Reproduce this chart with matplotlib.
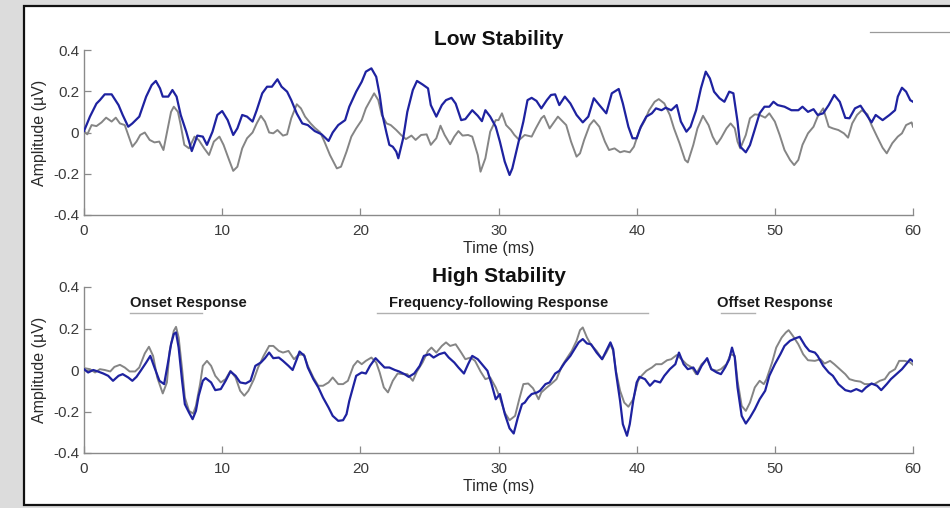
import matplotlib
matplotlib.use("Agg")
import matplotlib.pyplot as plt
from matplotlib.patches import Rectangle
from matplotlib.transforms import Bbox, TransformedBbox

plt.rcParams['font.family'] = ['Liberation Sans', 'DejaVu Sans']

# ---------------- data (time in ms, amplitude in uV) ----------------
low_blue_t = [0, 0.43, 0.9, 1.15, 1.5, 2.0, 2.5, 2.8, 3.2, 3.5, 4.0, 4.5, 4.9, 5.2, 5.5, 5.7, 6.1, 6.4, 6.7,
              7.0, 7.4, 7.8, 8.2, 8.6, 8.9, 9.3, 9.65, 10.0, 10.4, 10.8, 11.1, 11.45, 11.8, 12.2, 12.5, 12.9,
              13.25, 13.6, 14.0, 14.3, 14.7, 15.0, 15.4, 15.8, 16.2, 16.7, 17.2, 17.7, 18.0, 18.4, 18.9, 19.2,
              19.7, 20.1, 20.4, 20.8, 21.15, 21.4, 21.6, 21.9, 22.1, 22.35, 22.6, 22.75, 23.1, 23.4, 23.8, 24.1,
              24.5, 24.9, 25.1, 25.5, 25.9, 26.2, 26.6, 26.9, 27.3, 27.6, 28.1, 28.5, 28.8, 29.05, 29.4, 29.8,
              30.1, 30.45, 30.8, 31.0, 31.4, 31.8, 32.1, 32.4, 32.75, 33.1, 33.5, 33.8, 34.1, 34.4, 34.8, 35.2,
              35.65, 36.1, 36.5, 36.9, 37.3, 37.8, 38.2, 38.7, 39.0, 39.4, 39.7, 40.0, 40.3, 40.7, 41.1, 41.4,
              41.8, 42.1, 42.5, 42.9, 43.2, 43.6, 43.9, 44.3, 44.65, 45.0, 45.3, 45.6, 46.0, 46.35, 46.7, 47.0,
              47.3, 47.5, 47.9, 48.2, 48.5, 48.9, 49.25, 49.6, 49.9, 50.2, 50.7, 51.2, 51.7, 52.0, 52.4, 52.8,
              53.1, 53.5, 53.9, 54.3, 54.7, 55.1, 55.4, 55.8, 56.2, 56.5, 57.0, 57.3, 57.8, 58.3, 58.7, 58.9,
              59.2, 59.5, 59.8, 60.0]
low_blue_v = [0.007, 0.077, 0.14, 0.157, 0.185, 0.185, 0.133, 0.085, 0.028, 0.044, 0.077, 0.174, 0.23, 0.25,
              0.214, 0.174, 0.174, 0.206, 0.174, 0.085, 0.004, -0.09, -0.015, -0.02, -0.06, 0.004, 0.085, 0.104,
              0.06, -0.012, 0.02, 0.085, 0.077, 0.053, 0.108, 0.19, 0.222, 0.222, 0.258, 0.222, 0.198, 0.157,
              0.092, 0.044, 0.036, 0.007, -0.009, -0.041, 0.0, 0.036, 0.06, 0.125, 0.198, 0.246, 0.295, 0.311,
              0.27, 0.182, 0.085, -0.004, -0.06, -0.069, -0.093, -0.125, -0.028, 0.1, 0.206, 0.25, 0.233, 0.214,
              0.133, 0.077, 0.133, 0.157, 0.168, 0.14, 0.06, 0.065, 0.108, 0.081, 0.055, 0.108, 0.077, 0.028,
              -0.044, -0.141, -0.206, -0.174, -0.06, 0.053, 0.157, 0.168, 0.153, 0.117, 0.157, 0.182, 0.185,
              0.133, 0.174, 0.141, 0.085, 0.049, 0.077, 0.166, 0.133, 0.093, 0.19, 0.211, 0.141, 0.028, -0.028,
              -0.028, 0.028, 0.077, 0.093, 0.117, 0.108, 0.12, 0.108, 0.133, 0.053, 0.004, 0.028, 0.108, 0.214,
              0.295, 0.262, 0.198, 0.166, 0.149, 0.198, 0.19, 0.053, -0.069, -0.096, -0.061, 0.004, 0.093,
              0.125, 0.125, 0.149, 0.133, 0.125, 0.108, 0.108, 0.125, 0.1, 0.113, 0.085, 0.093, 0.133, 0.182,
              0.149, 0.071, 0.069, 0.117, 0.13, 0.1, 0.049, 0.085, 0.06, 0.085, 0.108, 0.174, 0.217, 0.198,
              0.157, 0.149]

low_gray_t = [0, 0.24, 0.55, 0.9, 1.27, 1.6, 2.0, 2.3, 2.6, 2.95, 3.2, 3.5, 3.8, 4.07, 4.4, 4.75, 5.1, 5.45,
              5.75, 6.06, 6.3, 6.5, 6.8, 7.0, 7.26, 7.6, 8.0, 8.3, 8.7, 9.05, 9.4, 9.8, 10.1, 10.5, 10.8, 11.1,
              11.45, 11.8, 12.2, 12.5, 12.8, 13.1, 13.4, 13.7, 14.0, 14.4, 14.7, 15.0, 15.4, 15.7, 16.0, 16.4,
              16.7, 17.1, 17.4, 17.8, 18.3, 18.6, 19.0, 19.35, 19.7, 20.1, 20.4, 20.8, 21.0, 21.3, 21.55, 21.9,
              22.2, 22.6, 22.95, 23.3, 23.7, 24.0, 24.4, 24.8, 25.1, 25.5, 25.8, 26.1, 26.5, 26.8, 27.1, 27.4,
              27.8, 28.1, 28.5, 28.7, 29.05, 29.4, 29.8, 30.0, 30.25, 30.55, 30.9, 31.15, 31.5, 31.9, 32.4,
              32.7, 33.1, 33.3, 33.7, 34.05, 34.3, 34.65, 34.9, 35.25, 35.65, 35.9, 36.2, 36.6, 36.9, 37.3,
              37.7, 38.0, 38.4, 38.8, 39.1, 39.5, 39.8, 40.2, 40.6, 40.9, 41.3, 41.6, 42.0, 42.4, 42.7, 43.1,
              43.5, 43.7, 44.1, 44.4, 44.8, 45.2, 45.5, 45.8, 46.1, 46.5, 46.8, 47.1, 47.3, 47.5, 47.9, 48.2,
              48.55, 48.9, 49.3, 49.6, 50.0, 50.35, 50.7, 51.1, 51.4, 51.7, 52.0, 52.4, 52.8, 53.1, 53.5, 53.9,
              54.2, 54.6, 55.0, 55.3, 55.6, 55.95, 56.3, 56.7, 57.0, 57.4, 57.8, 58.1, 58.5, 58.9, 59.2, 59.5,
              59.9, 60.0]
low_gray_v = [0.007, -0.009, 0.036, 0.031, 0.049, 0.072, 0.053, 0.072, 0.044, 0.036, -0.012, -0.069, -0.044,
              -0.012, 0.0, -0.036, -0.048, -0.044, -0.085, 0.02, 0.1, 0.125, 0.1, 0.036, -0.06, -0.077, -0.02,
              -0.036, -0.077, -0.109, -0.044, -0.02, -0.06, -0.133, -0.186, -0.166, -0.077, -0.028, 0.0, 0.044,
              0.081, 0.053, 0.0, -0.004, 0.012, -0.015, -0.009, 0.069, 0.137, 0.117, 0.077, 0.044, 0.023, 0.0,
              -0.044, -0.109, -0.174, -0.166, -0.093, -0.02, 0.02, 0.06, 0.117, 0.166, 0.19, 0.157, 0.085, 0.044,
              0.036, 0.012, -0.012, -0.032, -0.015, -0.036, -0.012, -0.009, -0.06, -0.028, 0.033, -0.012, -0.057,
              -0.02, 0.007, -0.015, -0.012, -0.02, -0.109, -0.19, -0.125, 0.004, 0.06, 0.06, 0.093, 0.036, 0.012,
              -0.012, -0.036, -0.012, -0.02, 0.02, 0.069, 0.081, 0.02, 0.053, 0.077, 0.053, 0.036, -0.044,
              -0.117, -0.101, -0.036, 0.036, 0.06, 0.028, -0.044, -0.085, -0.077, -0.096, -0.09, -0.096, -0.069,
              0.012, 0.06, 0.108, 0.149, 0.162, 0.141, 0.085, 0.02, -0.052, -0.133, -0.145, -0.06, 0.02, 0.081,
              0.036, -0.02, -0.057, -0.028, 0.02, 0.044, 0.02, -0.044, -0.077, -0.012, 0.069, 0.088, 0.085,
              0.072, 0.093, 0.053, -0.012, -0.085, -0.133, -0.158, -0.133, -0.06, -0.004, 0.028, 0.077, 0.117,
              0.028, 0.02, 0.012, -0.004, -0.025, 0.044, 0.085, 0.108, 0.088, 0.036, -0.02, -0.074, -0.101,
              -0.052, -0.02, -0.004, 0.036, 0.049, 0.028]

high_blue_t = [0, 0.3, 0.67, 1.0, 1.4, 1.75, 2.1, 2.5, 2.8, 3.2, 3.5, 3.8, 4.1, 4.5, 4.8, 5.1, 5.46, 5.8, 6.06,
               6.3, 6.5, 6.66, 6.85, 7.1, 7.3, 7.6, 7.86, 8.1, 8.3, 8.6, 8.8, 9.2, 9.5, 9.9, 10.25, 10.6, 10.97,
               11.3, 11.7, 12.05, 12.4, 12.8, 13.1, 13.4, 13.7, 14.1, 14.4, 14.8, 15.1, 15.4, 15.6, 15.95, 16.2,
               16.6, 16.96, 17.3, 17.7, 18.0, 18.4, 18.75, 19.0, 19.2, 19.5, 19.7, 20.1, 20.4, 20.7, 21.1, 21.4,
               21.75, 22.1, 22.5, 22.8, 23.2, 23.5, 23.9, 24.3, 24.6, 25.0, 25.3, 25.7, 26.1, 26.4, 26.8, 27.1,
               27.5, 27.8, 28.1, 28.5, 28.8, 29.2, 29.5, 29.8, 30.1, 30.46, 30.8, 31.1, 31.4, 31.7, 31.9, 32.15,
               32.4, 32.8, 33.0, 33.4, 33.7, 34.1, 34.4, 34.8, 35.2, 35.5, 35.8, 36.1, 36.4, 36.7, 37.1, 37.5,
               37.8, 38.1, 38.3, 38.5, 38.8, 39.0, 39.3, 39.5, 39.75, 40.0, 40.2, 40.6, 40.96, 41.3, 41.7, 42.0,
               42.4, 42.8, 43.06, 43.4, 43.7, 44.1, 44.4, 44.7, 45.1, 45.4, 45.8, 46.1, 46.4, 46.7, 46.9, 47.1,
               47.3, 47.6, 47.9, 48.2, 48.55, 48.9, 49.3, 49.6, 50.0, 50.4, 50.7, 51.1, 51.5, 51.8, 52.2, 52.5,
               52.9, 53.1, 53.5, 53.9, 54.2, 54.6, 55.1, 55.5, 55.9, 56.3, 56.6, 57.0, 57.4, 57.7, 58.1, 58.4,
               58.8, 59.2, 59.5, 59.8, 60.0]
high_blue_v = [0.004, -0.012, 0.0, -0.007, -0.017, -0.028, -0.052, -0.028, -0.02, -0.036, -0.052, -0.033,
               -0.004, 0.036, 0.068, 0.012, -0.052, -0.068, 0.028, 0.124, 0.173, 0.181, 0.108, -0.052, -0.165,
               -0.205, -0.237, -0.197, -0.124, -0.052, -0.039, -0.06, -0.097, -0.092, -0.052, -0.007, -0.028,
               -0.06, -0.065, -0.052, 0.02, 0.036, 0.057, 0.084, 0.057, 0.06, 0.044, 0.02, 0.0, 0.052, 0.089,
               0.068, 0.012, -0.044, -0.084, -0.133, -0.181, -0.221, -0.245, -0.242, -0.213, -0.149, -0.076,
               -0.028, -0.012, -0.017, 0.02, 0.057, 0.036, 0.012, 0.012, 0.0, -0.007, -0.02, -0.033, -0.017,
               0.02, 0.068, 0.076, 0.06, 0.076, 0.084, 0.06, 0.036, 0.012, -0.017, 0.028, 0.068, 0.052, 0.028,
               -0.004, -0.068, -0.141, -0.116, -0.213, -0.281, -0.306, -0.229, -0.165, -0.157, -0.133, -0.116,
               -0.108, -0.1, -0.068, -0.06, -0.017, -0.004, 0.036, 0.068, 0.1, 0.133, 0.149, 0.128, 0.124, 0.084,
               0.052, 0.092, 0.133, 0.1, -0.012, -0.149, -0.261, -0.317, -0.261, -0.149, -0.06, -0.033, -0.044,
               -0.076, -0.052, -0.06, -0.028, 0.004, 0.028, 0.084, 0.028, 0.004, 0.012, -0.02, 0.02, 0.057, 0.004,
               -0.012, -0.02, 0.012, 0.052, 0.108, 0.06, -0.084, -0.221, -0.258, -0.229, -0.189, -0.141, -0.1,
               -0.028, 0.028, 0.076, 0.116, 0.141, 0.153, 0.16, 0.116, 0.092, 0.084, 0.068, 0.02, -0.012, -0.028,
               -0.068, -0.097, -0.104, -0.092, -0.104, -0.084, -0.065, -0.076, -0.097, -0.068, -0.044, -0.02,
               0.004, 0.028, 0.052, 0.041]

high_gray_t = [0, 0.43, 0.8, 1.15, 1.5, 1.9, 2.2, 2.6, 2.95, 3.3, 3.7, 4.0, 4.4, 4.7, 5.0, 5.3, 5.7, 6.0, 6.2,
               6.5, 6.66, 6.85, 7.1, 7.3, 7.6, 7.9, 8.1, 8.4, 8.6, 8.9, 9.2, 9.5, 9.9, 10.25, 10.6, 10.97, 11.3,
               11.6, 11.9, 12.3, 12.6, 13.0, 13.4, 13.7, 14.1, 14.4, 14.8, 15.2, 15.5, 15.9, 16.2, 16.6, 16.96,
               17.3, 17.7, 18.0, 18.4, 18.75, 19.1, 19.5, 19.8, 20.1, 20.4, 20.8, 21.15, 21.4, 21.7, 22.0, 22.35,
               22.7, 23.1, 23.4, 23.8, 24.1, 24.5, 24.9, 25.15, 25.5, 25.9, 26.2, 26.5, 26.9, 27.3, 27.6, 27.98,
               28.3, 28.7, 29.05, 29.4, 29.8, 30.1, 30.45, 30.8, 31.2, 31.5, 31.8, 32.15, 32.5, 32.9, 33.1, 33.5,
               33.8, 34.2, 34.6, 34.9, 35.3, 35.65, 35.9, 36.1, 36.4, 36.7, 37.1, 37.5, 37.8, 38.1, 38.3, 38.5,
               38.8, 39.1, 39.4, 39.75, 40.1, 40.35, 40.7, 41.1, 41.4, 41.8, 42.2, 42.5, 42.9, 43.25, 43.6, 44.0,
               44.3, 44.7, 45.1, 45.4, 45.8, 46.1, 46.5, 46.8, 47.1, 47.3, 47.6, 47.9, 48.2, 48.55, 48.9, 49.2,
               49.4, 49.8, 50.1, 50.5, 50.8, 51.0, 51.3, 51.7, 52.05, 52.4, 52.9, 53.3, 53.6, 54.0, 54.3, 54.7,
               55.1, 55.4, 55.8, 56.2, 56.5, 56.9, 57.2, 57.6, 57.96, 58.3, 58.7, 59.0, 59.4, 59.8, 60.0]
high_gray_v = [0.009, 0.004, -0.012, 0.004, 0.0, -0.007, 0.015, 0.025, 0.012, -0.007, -0.007, 0.012, 0.08, 0.112,
               0.068, -0.036, -0.113, -0.06, 0.092, 0.189, 0.208, 0.157, 0.004, -0.133, -0.197, -0.21, -0.173,
               -0.068, 0.02, 0.044, 0.02, -0.028, -0.06, -0.044, -0.004, -0.036, -0.1, -0.124, -0.1, -0.044,
               0.012, 0.068, 0.116, 0.116, 0.092, 0.084, 0.092, 0.052, 0.072, 0.076, 0.02, -0.036, -0.076,
               -0.076, -0.06, -0.036, -0.068, -0.068, -0.052, 0.02, 0.044, 0.028, 0.044, 0.06, 0.036, -0.012,
               -0.084, -0.108, -0.052, -0.017, -0.02, -0.02, -0.052, -0.007, 0.036, 0.092, 0.108, 0.084, 0.116,
               0.133, 0.116, 0.124, 0.084, 0.052, 0.06, 0.044, -0.007, -0.044, -0.036, -0.084, -0.133, -0.205,
               -0.242, -0.221, -0.141, -0.068, -0.065, -0.088, -0.141, -0.108, -0.084, -0.068, -0.044, 0.02,
               0.052, 0.092, 0.141, 0.192, 0.205, 0.157, 0.121, 0.092, 0.052, 0.084, 0.124, 0.092, -0.004, -0.1,
               -0.157, -0.177, -0.141, -0.052, -0.028, -0.004, 0.012, 0.028, 0.028, 0.047, 0.052, 0.072, 0.052,
               0.028, 0.012, -0.02, 0.028, 0.052, 0.004, -0.004, 0.004, 0.028, 0.076, 0.068, -0.052, -0.173,
               -0.197, -0.157, -0.084, -0.052, -0.068, -0.044, 0.036, 0.108, 0.157, 0.181, 0.192, 0.165, 0.124,
               0.076, 0.047, 0.044, 0.052, 0.031, 0.044, 0.028, 0.004, -0.02, -0.044, -0.052, -0.056, -0.068,
               -0.068, -0.068, -0.052, -0.044, -0.012, 0.004, 0.044, 0.044, 0.036, 0.025]

panel_titles = ["Low Stability", "High Stability"]
x_ticks = [0, 10, 20, 30, 40, 50, 60]
y_ticks = [-0.4, -0.2, 0, 0.2, 0.4]
y_ticklabels = ["-0.4", "-0.2", "0", "0.2", "0.4"]
region_labels = ["Onset Response", "Frequency-following Response", "Offset Response"]
region_starts = [3.3, 21.2, 46.1]
region_ends = [8.55, 40.8, 48.55]
region_text_x = [3.35, 22.1, 45.8]

BLUE = "#1e22a0"
GRAY = "#858585"

# ---------------- figure ----------------
W, H = 950, 508
fig = plt.figure(figsize=(W / 100, H / 100), dpi=100)
fig.patch.set_facecolor("#dcdcdc")

# background panel drawn in its own axes behind everything
bg = fig.add_axes([0, 0, 1, 1], zorder=-10)
bg.set_xlim(0, W)
bg.set_ylim(H, 0)
bg.axis("off")
bg.add_patch(Rectangle((24, 6), 940, 499, facecolor="white", edgecolor="#111111", linewidth=1.6))
bg.plot([870, W], [32, 32], color="#9a9a9a", linewidth=0.9)

ax1 = fig.add_axes([84 / W, 1 - 215 / H, 829 / W, 165 / H])
ax2 = fig.add_axes([84 / W, 1 - 453 / H, 829 / W, 166 / H])

series = [(low_gray_t, low_gray_v, low_blue_t, low_blue_v),
          (high_gray_t, high_gray_v, high_blue_t, high_blue_v)]

for ax, (gt, gv, bt, bv), title in zip([ax1, ax2], series, panel_titles):
    ax.set_facecolor("none")
    ax.plot(gt, gv, color=GRAY, linewidth=1.4, zorder=2)
    ax.plot(bt, bv, color=BLUE, linewidth=1.6, zorder=3)
    ax.set_xlim(0, 60)
    ax.set_ylim(-0.4, 0.4)
    ax.set_xticks(x_ticks)
    ax.set_xticklabels([str(v) for v in x_ticks])
    ax.set_yticks(y_ticks)
    ax.set_yticklabels(y_ticklabels)
    for s in ["top", "right"]:
        ax.spines[s].set_visible(False)
    for s in ["left", "bottom"]:
        ax.spines[s].set_color("#8a8a8a")
        ax.spines[s].set_linewidth(1.0)
    ax.tick_params(axis="both", direction="in", length=5, width=0.9, color="#8a8a8a",
                   labelsize=11, labelcolor="#3a3a3a")
    ax.tick_params(axis="x", pad=6.5)
    ax.tick_params(axis="y", pad=3.5)
    ax.set_xlabel("Time (ms)", fontsize=11.5, color="#2a2a2a", labelpad=2.5)
    ax.set_ylabel("Amplitude (\u00b5V)", fontsize=11.5, color="#2a2a2a", labelpad=4.5)
    ax.set_title(title, fontsize=15, fontweight="bold", pad=3.6, color="#111111")

# region annotations on the high-stability panel
for lab, x0, x1, tx in zip(region_labels, region_starts, region_ends, region_text_x):
    ax2.plot([x0, x1], [0.275, 0.275], color="#b0b0b0", linewidth=1.0, clip_on=False, zorder=1)
    t = ax2.text(tx, 0.322, lab, fontsize=10.6, fontweight="bold", color="#1a1a1a",
                 ha="left", va="center")
    if lab == "Offset Response":
        t.set_clip_box(TransformedBbox(Bbox([[40, -0.4], [54.15, 0.45]]), ax2.transData))
        t.set_clip_on(True)

fig.savefig("out.png", dpi=100, facecolor=fig.get_facecolor())
